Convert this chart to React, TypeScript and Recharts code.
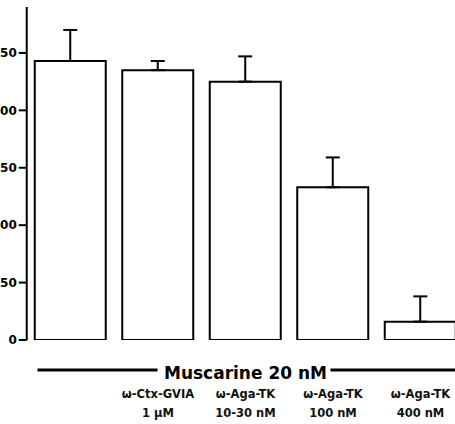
import React from "react";
import { BarChart, Bar, XAxis, YAxis, ErrorBar, Cell } from "recharts";

const categories = ["Control", "ω-Ctx-GVIA 1 µM", "ω-Aga-TK 10-30 nM", "ω-Aga-TK 100 nM", "ω-Aga-TK 400 nM"];
const toxinLabels = ["", "ω-Ctx-GVIA", "ω-Aga-TK", "ω-Aga-TK", "ω-Aga-TK"];
const doseLabels = ["", "1 µM", "10-30 nM", "100 nM", "400 nM"];
const means = [243, 235, 225, 133, 16];
const sems = [27, 8, 22, 26, 22];
const yTicks = [0, 50, 100, 150, 200, 250];
const groupLabel = "Muscarine 20 nM";

const data = categories.map((name, i) => ({
  name,
  value: means[i],
  err: [0, sems[i]],
}));

const FONT = "'DejaVu Sans', sans-serif";

// two-line label under each bar
const CategoryTick = ({ x, y, payload }: any) => {
  const i = payload.index;
  return (
    <g>
      <text x={x} y={y + 58} textAnchor="middle" fontFamily={FONT} fontWeight="bold" fontSize={11.5} fill="#111">
        {toxinLabels[i]}
      </text>
      <text x={x} y={y + 77} textAnchor="middle" fontFamily={FONT} fontWeight="bold" fontSize={11.5} fill="#111">
        {doseLabels[i]}
      </text>
    </g>
  );
};

// "Muscarine 20 nM" with a rule on each side
const GroupLabel = (props: any) => {
  const { x, y, width } = props.viewBox;
  const cx = x + width / 2;
  const by = y + 39;
  const ry = by - 9;
  return (
    <g>
      <rect x={cx - 208} y={ry - 1.5} width={120} height={3} fill="#000" />
      <rect x={cx + 85} y={ry - 1.5} width={150} height={3} fill="#000" />
      <text x={cx} y={by} textAnchor="middle" fontFamily={FONT} fontWeight="bold" fontSize={17} fill="#000">
        {groupLabel}
      </text>
    </g>
  );
};

export default function App() {
  return (
    <div
      style={{
        position: "absolute",
        left: 0,
        top: 0,
        width: 455,
        height: 424,
        overflow: "hidden",
        background: "#fff",
      }}
    >
      <div style={{ marginLeft: -20, width: 490 }}>
        <BarChart
          width={490}
          height={424}
          data={data}
          margin={{ top: 7, right: 5.75, left: 0, bottom: 0 }}
          barSize={71}
        >
          <YAxis
            width={46.75}
            domain={[0, 290]}
            ticks={yTicks}
            allowDataOverflow
            axisLine={{ stroke: "#000", strokeWidth: 2 }}
            tickLine={{ stroke: "#000", strokeWidth: 2 }}
            tickSize={8}
            tickMargin={2}
            tick={{ fontFamily: FONT, fontWeight: "bold", fontSize: 12, fill: "#000" }}
          />
          <XAxis
            dataKey="name"
            height={84}
            axisLine={false}
            tickLine={false}
            tickSize={0}
            tickMargin={0}
            interval={0}
            tick={<CategoryTick />}
            label={<GroupLabel />}
          />
          <Bar dataKey="value" fill="#fff" stroke="#000" strokeWidth={2} isAnimationActive={false}>
            {data.map((_, i) => (
              <Cell key={i} fill="#fff" stroke="#000" />
            ))}
            <ErrorBar dataKey="err" width={7} stroke="#000" strokeWidth={2} isAnimationActive={false} />
          </Bar>
        </BarChart>
      </div>
    </div>
  );
}
